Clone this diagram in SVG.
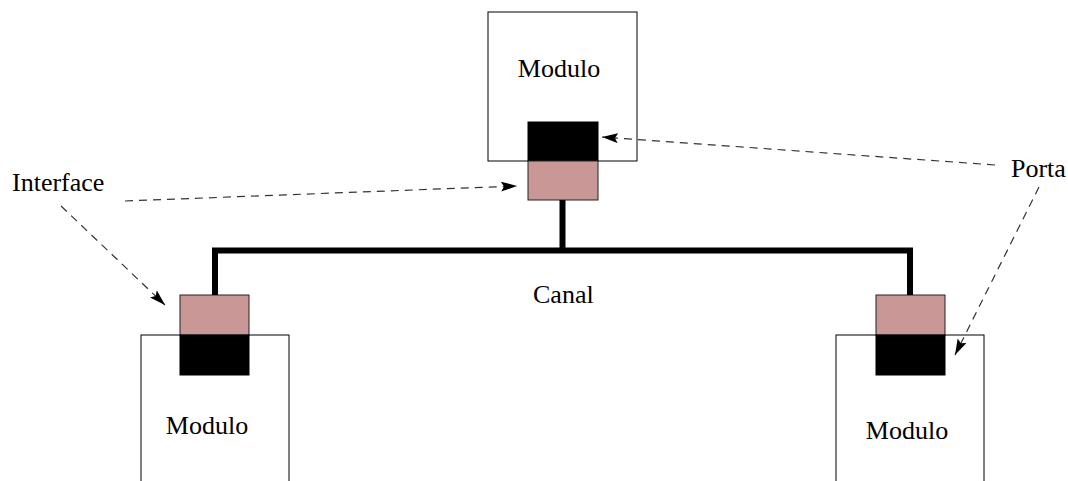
<svg xmlns="http://www.w3.org/2000/svg" width="1068" height="481" viewBox="0 0 1068 481">
  <style>
    .box { fill: #ffffff; stroke: #000000; stroke-width: 1; }
    .port { fill: #000000; stroke: #000000; stroke-width: 1; }
    .iface { fill: #c99896; stroke: #222222; stroke-width: 1; }
    .lbl { font-family: "Liberation Serif", "Times New Roman", serif; font-size: 26px; fill: #000000; }
    .canal { fill: none; stroke: #000000; stroke-width: 6; stroke-linejoin: miter; }
    .ptr { fill: none; stroke: #333333; stroke-width: 1.2; stroke-dasharray: 8 6; marker-end: url(#head); }
  </style>
  <defs>
    <marker id="head" viewBox="0 0 16 10" refX="16" refY="5" markerWidth="16" markerHeight="10" markerUnits="userSpaceOnUse" orient="auto">
      <path d="M0,0 L16,5 L0,10 L3,5 Z" fill="#000000"/>
    </marker>
  </defs>

  <!-- top module -->
  <g id="module-top">
    <rect class="box" x="488" y="12" width="149" height="149"/>
    <text class="lbl" x="559" y="77" text-anchor="middle">Modulo</text>
    <rect class="port" x="528" y="122" width="70" height="39"/>
    <rect class="iface" x="528" y="161" width="70" height="39"/>
  </g>

  <!-- bottom-left module -->
  <g id="module-left">
    <rect class="box" x="141" y="335" width="148" height="160"/>
    <text class="lbl" x="207" y="434" text-anchor="middle">Modulo</text>
    <rect class="iface" x="180" y="295" width="69" height="40"/>
    <rect class="port" x="180" y="335" width="69" height="40"/>
  </g>

  <!-- bottom-right module -->
  <g id="module-right">
    <rect class="box" x="836" y="335" width="148" height="160"/>
    <text class="lbl" x="907" y="439" text-anchor="middle">Modulo</text>
    <rect class="iface" x="876" y="295" width="69" height="40"/>
    <rect class="port" x="876" y="335" width="69" height="40"/>
  </g>

  <!-- labels -->
  <g id="label-interface">
    <text class="lbl" x="12" y="191">Interface</text>
  </g>
  <g id="label-porta">
    <text class="lbl" x="1011" y="177">Porta</text>
  </g>
  <g id="label-canal">
    <text class="lbl" x="533" y="303">Canal</text>
  </g>

  <!-- channel wiring and label pointers, drawn over the modules -->
  <g id="connectors">
    <polyline class="canal" points="215,295 215,250.5 910,250.5 910,295"/>
    <line class="canal" x1="562.5" y1="200" x2="562.5" y2="250.5"/>
    <line class="ptr" x1="125" y1="201" x2="517" y2="186"/>
    <line class="ptr" x1="61" y1="206" x2="165" y2="305"/>
    <line class="ptr" x1="995" y1="165" x2="602" y2="137"/>
    <line class="ptr" x1="1039" y1="187" x2="955" y2="355"/>
  </g>
</svg>
